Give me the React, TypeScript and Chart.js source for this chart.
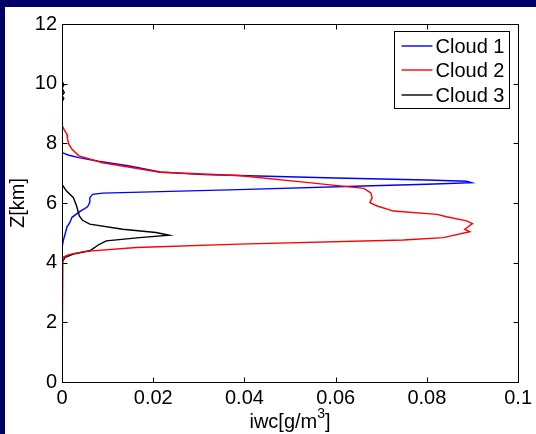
import React, { useEffect, useRef } from "react";
import { Chart, registerables } from "chart.js";

Chart.register(...registerables);

const xTicks = [0, 0.02, 0.04, 0.06, 0.08, 0.1];
const yTicks = [0, 2, 4, 6, 8, 10, 12];
const seriesLabels = ["Cloud 1", "Cloud 2", "Cloud 3"];
const seriesColors = ["#0000ff", "#ff0000", "#000000"];
const xTitleMain = "iwc[g/m";
const xTitleSup = "3";
const xTitleEnd = "]";
const yTitle = "Z[km]";

const cloud1Iwc = [0, 0, 0.0015, 0.0037, 0.008, 0.0148, 0.0215, 0.031, 0.0387, 0.06, 0.08, 0.0887, 0.0898, 0.08, 0.068, 0.0387, 0.0237, 0.0089, 0.0067, 0.0061, 0.0061, 0.0056, 0.0038, 0.0022, 0.0017, 0.0011, 0.0007, 0.0003, 0, 0];
const cloud1Z = [12, 7.69, 7.6, 7.52, 7.4, 7.24, 7.04, 6.95, 6.92, 6.84, 6.77, 6.73, 6.68, 6.63, 6.58, 6.45, 6.39, 6.33, 6.29, 6.18, 6.02, 5.87, 5.7, 5.52, 5.34, 5.2, 4.97, 4.75, 4.5, 0];

const cloud2Iwc = [0, 0, 0.0005, 0.0011, 0.0012, 0.0015, 0.0022, 0.0037, 0.0089, 0.0215, 0.031, 0.0387, 0.053, 0.0662, 0.0677, 0.068, 0.0675, 0.0691, 0.0727, 0.0822, 0.0843, 0.0887, 0.09, 0.0883, 0.0894, 0.0836, 0.0749, 0.0387, 0.0163, 0.0052, 0.0015, 0.0002, 0, 0];
const cloud2Z = [12, 8.6, 8.45, 8.3, 8.15, 7.97, 7.8, 7.58, 7.35, 7.03, 6.97, 6.92, 6.7, 6.49, 6.34, 6.18, 6.01, 5.9, 5.73, 5.62, 5.54, 5.4, 5.31, 5.12, 5.04, 4.84, 4.76, 4.62, 4.51, 4.38, 4.27, 4.18, 4.07, 0];

const cloud3Iwc = [0, 0, 0.0004, 0, 0.0005, 0, 0.0004, 0, 0, 0.001, 0.0025, 0.0032, 0.0038, 0.0045, 0.0061, 0.0133, 0.0206, 0.0235, 0.017, 0.0097, 0.008, 0.0072, 0.0061, 0.0025, 0.0007, 0, 0];
const cloud3Z = [12, 10.1, 9.95, 9.85, 9.7, 9.6, 9.5, 9.4, 6.62, 6.4, 6.18, 5.9, 5.57, 5.42, 5.29, 5.12, 5.01, 4.92, 4.84, 4.73, 4.6, 4.51, 4.4, 4.29, 4.18, 4.01, 0];

const FONT = "'Liberation Sans', Arial, Helvetica, sans-serif";
const LINE_W = 1.4;

function toPoints(xs: number[], ys: number[]) {
  return xs.map((x, i) => ({ x, y: ys[i] }));
}

const framePlugin = {
  id: "frame",
  afterDatasetsDraw(chart: any) {
    const { ctx, chartArea: a, scales } = chart;
    ctx.save();
    ctx.strokeStyle = "#000";
    ctx.lineWidth = 1;
    const l = Math.round(a.left) + 0.5;
    const r = Math.round(a.right) + 0.5;
    const t = Math.round(a.top) + 0.5;
    const b = Math.round(a.bottom) + 0.5;
    ctx.strokeRect(l, t, r - l, b - t);
    const len = 5;
    ctx.beginPath();
    xTicks.forEach((v) => {
      const px = Math.round(scales.x.getPixelForValue(v)) + 0.5;
      ctx.moveTo(px, b);
      ctx.lineTo(px, b - len);
      ctx.moveTo(px, t);
      ctx.lineTo(px, t + len);
    });
    yTicks.forEach((v) => {
      const py = Math.round(scales.y.getPixelForValue(v)) + 0.5;
      ctx.moveTo(l, py);
      ctx.lineTo(l + len, py);
      ctx.moveTo(r, py);
      ctx.lineTo(r - len, py);
    });
    ctx.stroke();
    ctx.restore();
  },
  afterDraw(chart: any) {
    const { ctx, chartArea: a } = chart;
    ctx.save();
    // legend
    const boxRight = a.right - 9;
    const boxW = 115;
    const boxTop = a.top + 7;
    const boxH = 77;
    const bx = Math.round(boxRight - boxW) + 0.5;
    const by = Math.round(boxTop) + 0.5;
    ctx.fillStyle = "#fff";
    ctx.fillRect(bx, by, boxW, boxH);
    ctx.strokeStyle = "#000";
    ctx.lineWidth = 1;
    ctx.strokeRect(bx, by, boxW, boxH);
    ctx.font = `20px ${FONT}`;
    ctx.textBaseline = "middle";
    ctx.textAlign = "left";
    seriesLabels.forEach((lab, i) => {
      const y = Math.round(by + 14 + i * 24.5);
      ctx.strokeStyle = seriesColors[i];
      ctx.lineWidth = LINE_W;
      ctx.beginPath();
      ctx.moveTo(bx + 7, y);
      ctx.lineTo(bx + 38, y);
      ctx.stroke();
      ctx.fillStyle = "#000";
      ctx.fillText(lab, bx + 41, y + 1);
    });
    // x axis title with superscript
    const cx = (a.left + a.right) / 2;
    const baseY = chart.height - 6;
    ctx.font = `20px ${FONT}`;
    const w1 = ctx.measureText(xTitleMain).width;
    ctx.font = `14px ${FONT}`;
    const w2 = ctx.measureText(xTitleSup).width;
    ctx.font = `20px ${FONT}`;
    const w3 = ctx.measureText(xTitleEnd).width;
    const total = w1 + w2 + w3;
    let x = cx - total / 2;
    ctx.textBaseline = "alphabetic";
    ctx.fillStyle = "#000";
    ctx.fillText(xTitleMain, x, baseY);
    x += w1;
    ctx.font = `14px ${FONT}`;
    ctx.fillText(xTitleSup, x, baseY - 10);
    x += w2;
    ctx.font = `20px ${FONT}`;
    ctx.fillText(xTitleEnd, x, baseY);
    ctx.restore();
  },
};

export default function App() {
  const ref = useRef<HTMLCanvasElement | null>(null);
  useEffect(() => {
    if (!ref.current) return;
    const series = [
      toPoints(cloud1Iwc, cloud1Z),
      toPoints(cloud2Iwc, cloud2Z),
      toPoints(cloud3Iwc, cloud3Z),
    ];
    const chart = new Chart(ref.current, {
      type: "scatter",
      data: {
        datasets: series.map((pts, i) => ({
          label: seriesLabels[i],
          data: pts,
          showLine: true,
          borderColor: seriesColors[i],
          backgroundColor: seriesColors[i],
          borderWidth: LINE_W,
          pointRadius: 0,
          tension: 0,
          order: i === 1 ? 0 : i === 2 ? 1 : 2,
        })),
      },
      options: {
        animation: false,
        responsive: false,
        maintainAspectRatio: false,
        layout: { padding: { top: 16, right: 14, left: 0, bottom: 0 } },
        plugins: {
          legend: { display: false },
          tooltip: { enabled: false },
        },
        scales: {
          x: {
            type: "linear",
            min: 0,
            max: 0.1,
            grid: { display: false, drawTicks: false, tickLength: 0 },
            border: { display: false },
            afterBuildTicks: (s: any) => {
              s.ticks = xTicks.map((v) => ({ value: v }));
            },
            afterFit: (s: any) => {
              s.height = 52;
            },
            ticks: {
              color: "#000",
              padding: 4,
              maxRotation: 0,
              autoSkip: false,
              font: { family: FONT, size: 20 },
              callback: (v: any) => String(v),
            },
            title: { display: false },
          },
          y: {
            type: "linear",
            min: 0,
            max: 12,
            grid: { display: false, drawTicks: false, tickLength: 0 },
            border: { display: false },
            afterBuildTicks: (s: any) => {
              s.ticks = yTicks.map((v) => ({ value: v }));
            },
            afterFit: (s: any) => {
              s.width = 57;
            },
            ticks: {
              color: "#000",
              padding: 5,
              autoSkip: false,
              font: { family: FONT, size: 20 },
              callback: (v: any) => String(v),
            },
            title: {
              display: true,
              text: yTitle,
              color: "#000",
              font: { family: FONT, size: 20 },
              padding: { top: 1, bottom: 0 },
            },
          },
        },
      },
      plugins: [framePlugin],
    });
    return () => chart.destroy();
  }, []);

  return (
    <div style={{ position: "fixed", inset: 0, background: "#000066" }}>
      <canvas
        ref={ref}
        width={531}
        height={427}
        style={{ position: "absolute", left: 5, top: 7, width: 531, height: 427, background: "#fff" }}
      />
    </div>
  );
}
